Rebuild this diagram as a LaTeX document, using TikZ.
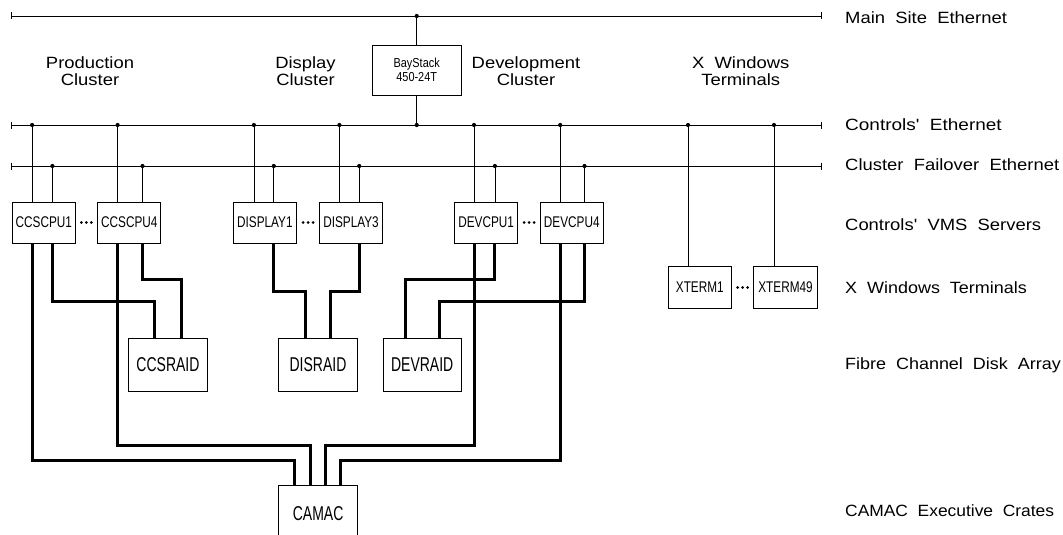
\documentclass[tikz,border=0pt]{standalone}
\usepackage{graphicx}
\usepackage{fontspec}
\newfontfamily\cadfont[FakeStretch=1.13,WordSpace=2]{Liberation Sans}
\newfontfamily\cpufont[FakeStretch=0.76]{Liberation Sans}
\newfontfamily\raidfontfam[FakeStretch=0.70]{Liberation Sans}
\newfontfamily\bayfontfam[FakeStretch=0.84]{Liberation Sans}
\begin{document}
\begin{tikzpicture}[x=1pt,y=-1pt,
  thinln/.style={line width=0.8pt},
  fc/.style={line width=3pt, line join=miter},
  box/.style={draw, line width=0.8pt, inner sep=0pt, minimum width=63pt, minimum height=41pt, font=\cpufont\fontsize{15.5}{16}\selectfont},
  raid/.style={draw, line width=0.8pt, inner sep=0pt, minimum width=78.5pt, minimum height=52.5pt, font=\raidfontfam\fontsize{20}{21}\selectfont},
  lbl/.style={anchor=base west, inner sep=0pt, font=\cadfont\fontsize{16.3}{16.7}\selectfont},
  ttl/.style={anchor=base, inner sep=0pt, font=\cadfont\fontsize{16.3}{16.7}\selectfont},
]
\useasboundingbox (0,0) rectangle (1063,535);
\clip (0,0) rectangle (1063,535);

% buses
\coordinate (mL) at (11.7,16);  \coordinate (mR) at (821,16);
\coordinate (cL) at (11.7,125); \coordinate (cR) at (821,125);
\coordinate (fL) at (11.7,166); \coordinate (fR) at (821,166);
\foreach \a/\b in {mL/mR, cL/cR, fL/fR} {
  \draw[thinln] (\a) -- (\b);
  \draw[thinln] ([yshift=3.5pt]\a) -- ([yshift=-3.5pt]\a);
  \draw[thinln] ([yshift=3.5pt]\b) -- ([yshift=-3.5pt]\b);
}

% BayStack
\node[box, minimum width=88.7pt, minimum height=50pt, align=center,
      font=\bayfontfam\fontsize{13}{13.4}\selectfont] (bay) at (416.7,70) {BayStack\\450-24T};
\coordinate (bx) at (416.7,0);
\draw[thinln] (bx |- mL) -- (bay.north);
\draw[thinln] (bay.south) -- (bx |- cL);
\fill (bx |- mL) circle (2.1);
\fill (bx |- cL) circle (2.1);

% servers
\node[box] (ccs1) at (43.8,222.5) {CCSCPU1};
\node[box] (ccs4) at (129.3,222.5) {CCSCPU4};
\node[box] (dis1) at (264.9,222.5) {DISPLAY1};
\node[box] (dis3) at (351,222.5) {DISPLAY3};
\node[box] (dev1) at (486.2,222.5) {DEVCPU1};
\node[box] (dev4) at (571.8,222.5) {DEVCPU4};
\node[box, minimum height=41.6pt] (xt1) at (699.8,287.5) {XTERM1};
\node[box, minimum height=41.6pt, minimum width=63.6pt] (xt49) at (785.5,287.5) {XTERM49};

% disk arrays and CAMAC
\node[raid] (ccsr) at (168,364.7) {CCSRAID};
\node[raid] (disr) at (318,364.7) {DISRAID};
\node[raid] (devr) at (422.2,364.7) {DEVRAID};
\node[raid, minimum height=56pt] (camac) at (318.1,513.5) {CAMAC};

% ethernet drops
\foreach \n/\a/\b in {ccs1/32.1/52.4, ccs4/117.6/142.5, dis1/253.9/273.8,
                      dis3/339.4/359.2, dev1/474/494.9, dev4/560.2/584.5} {
  \path (\a,0) coordinate (ta) (\b,0) coordinate (tb);
  \draw[thinln] (ta |- cL) -- (ta |- \n.north);
  \draw[thinln] (tb |- fL) -- (tb |- \n.north);
  \fill (ta |- cL) circle (2.1);
  \fill (tb |- fL) circle (2.1);
}
\foreach \n/\a in {xt1/688, xt49/774} {
  \path (\a,0) coordinate (ta);
  \draw[thinln] (ta |- cL) -- (ta |- \n.north);
  \fill (ta |- cL) circle (2.1);
}

% thick (SCSI / fibre) connections
\foreach \s/\x/\y/\xx/\t in {
    ccs1/32.1/460.3/294.8/camac, ccs4/117.6/445.6/310.3/camac,
    dev1/474/445.6/325.2/camac,  dev4/560.2/460.3/340.4/camac,
    ccs1/52.4/301.7/154.3/ccsr,  ccs4/142.5/279.3/181.7/ccsr,
    dis1/273.8/291.9/305.3/disr, dis3/359.2/291.9/330.3/disr,
    dev1/494.9/279.3/405/devr,   dev4/584.5/301.7/439/devr} {
  \path (\x,\y) coordinate (p) (\xx,\y) coordinate (q);
  \draw[fc] (p |- \s.south) -- (p) -- (q) -- (q |- \t.north);
}

% ellipsis dots between boxes
\foreach \cx/\cy in {86.4/222.5, 308/222.5, 529/222.5, 742.5/287.5} {
  \foreach \d in {-5,0,5} \fill ({\cx+\d},\cy) circle (1.5);
}

% cluster titles
\node[ttl] (t1a) at (90,68.3) {Production};
\node[ttl] (t1b) at (90,85) {Cluster};
\node[ttl] (t2a) at (305.5,68.3) {Display};
\node[ttl] (t2b) at (305.5,85) {Cluster};
\node[ttl] (t3a) at (526,68.3) {Development};
\node[ttl] (t3b) at (526,85) {Cluster};
\node[ttl] (t4a) at (740.7,68.3) {X Windows};
\node[ttl] (t4b) at (740.7,85) {Terminals};

% right-hand legend
\node[lbl] (r1) at (845,23.3) {Main Site Ethernet};
\node[lbl] (r2) at (845,130) {\scalebox{1.03}[1]{Controls' Ethernet}};
\node[lbl] (r3) at (845,170) {Cluster Failover Ethernet};
\node[lbl] (r4) at (845,230) {Controls' VMS Servers};
\node[lbl] (r5) at (845,293.3) {\scalebox{0.975}[1]{X Windows Terminals}};
\node[lbl] (r6) at (845,369.3) {\scalebox{0.975}[1]{Fibre Channel Disk Array}};
\node[lbl] (r7) at (845,516) {\scalebox{0.945}[1]{CAMAC Executive Crates}};
\end{tikzpicture}
\end{document}
